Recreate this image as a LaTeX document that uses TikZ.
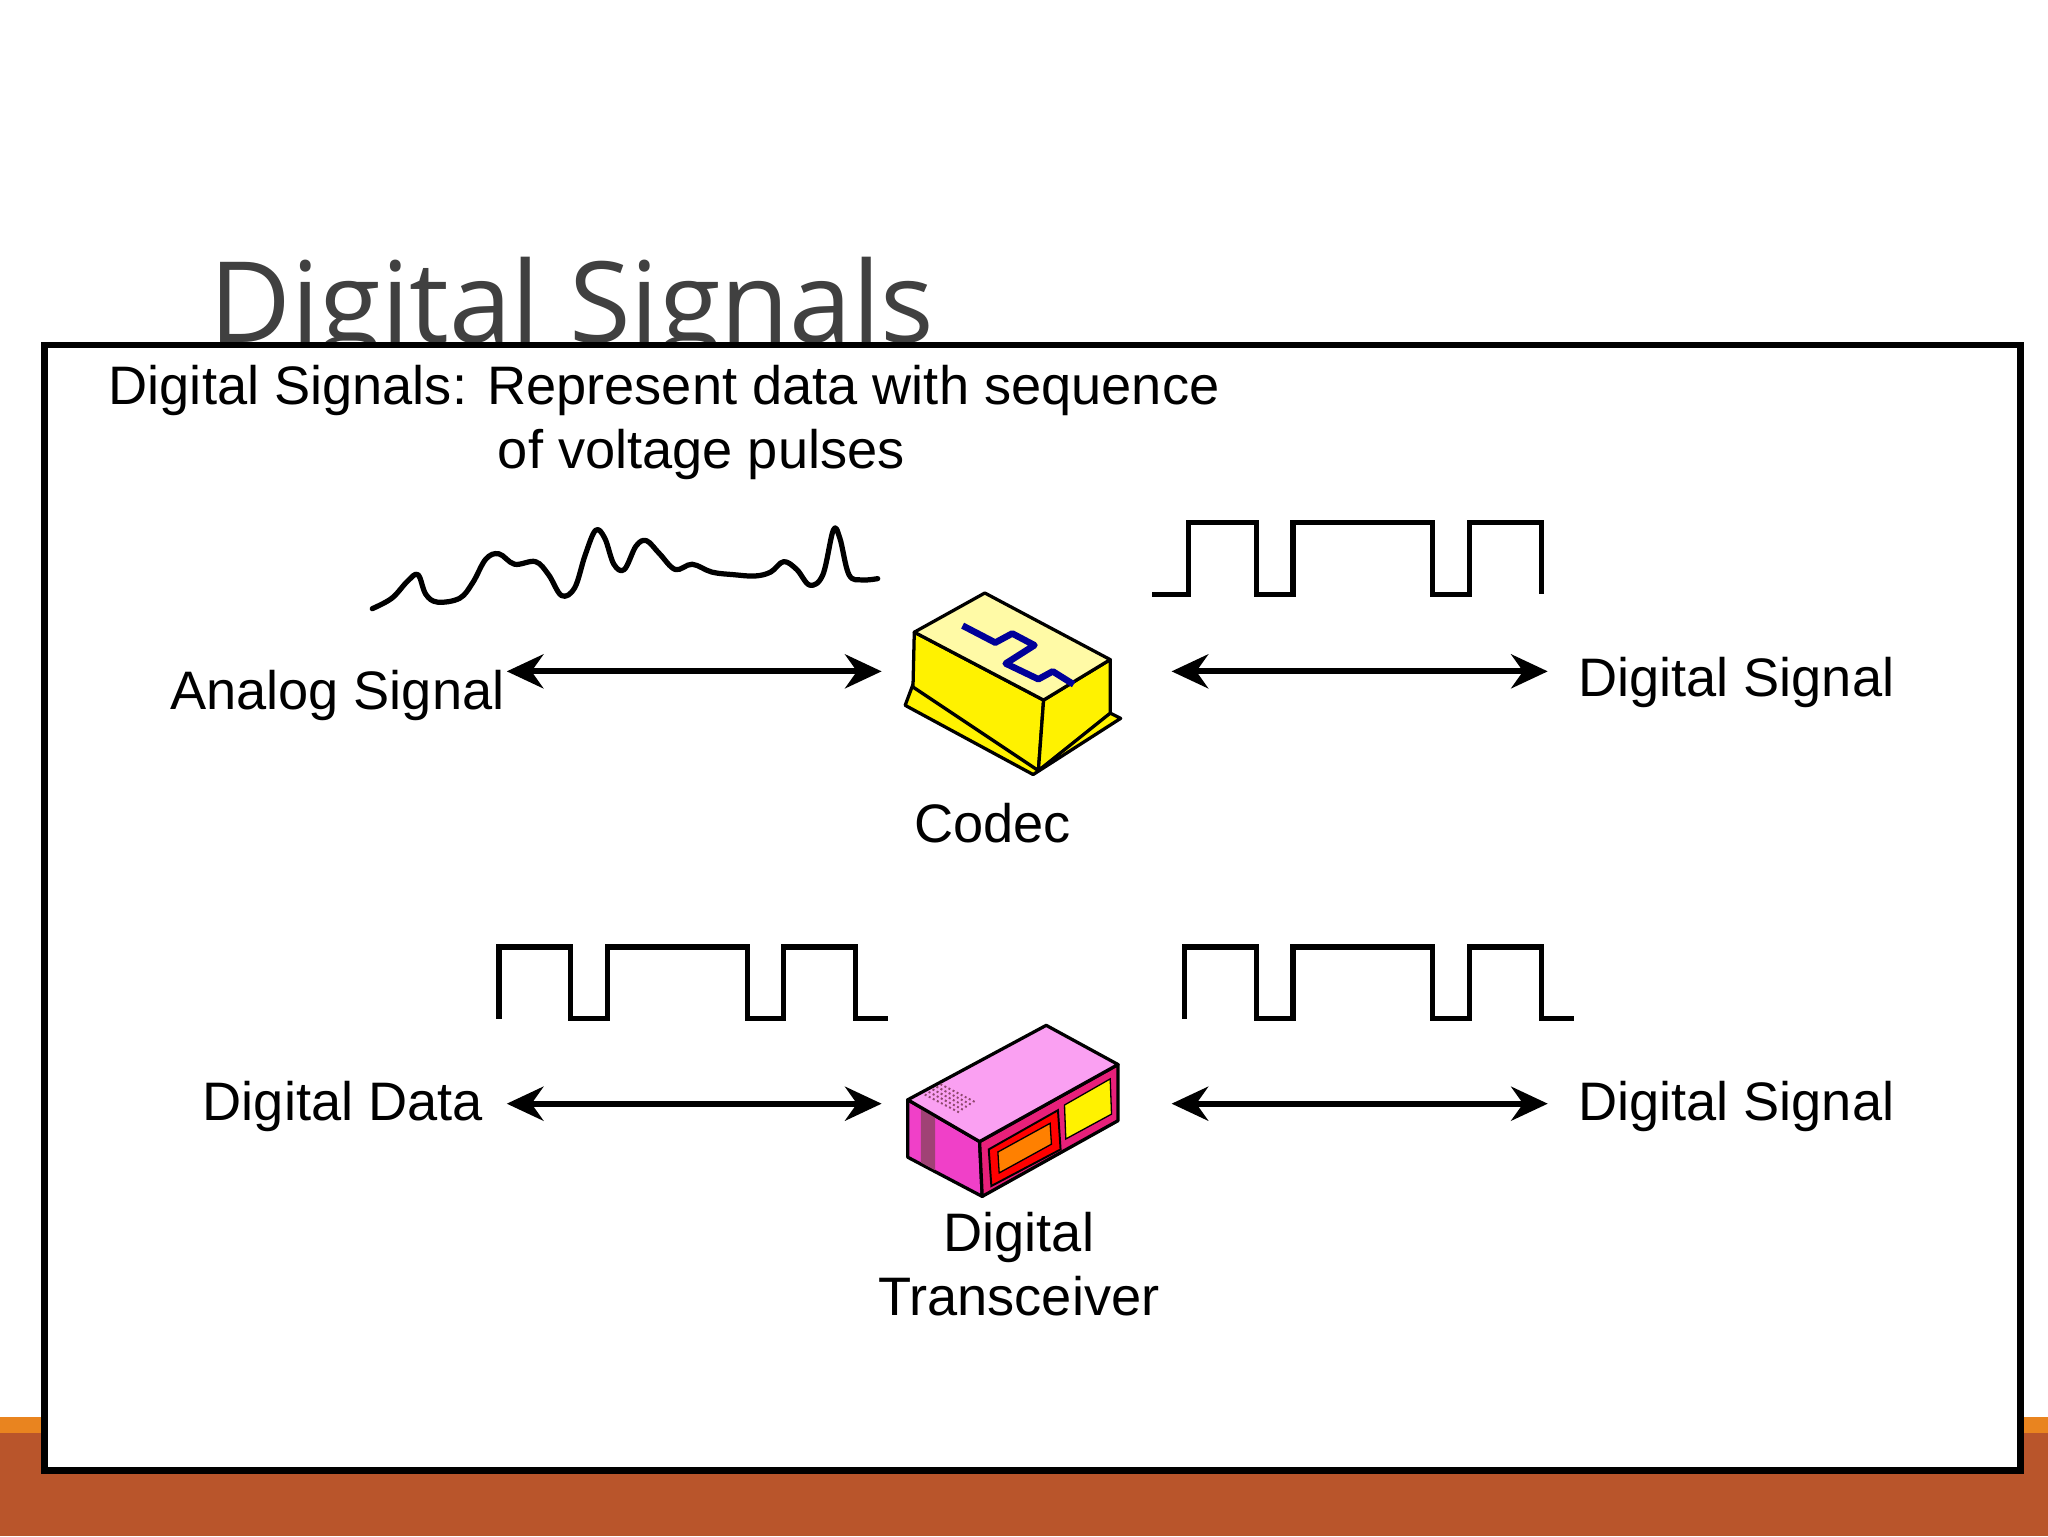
\documentclass[tikz,border=0pt]{standalone}
\usepackage{fontspec}
\setmainfont{Liberation Sans}
\newfontfamily\titlefont{Open Sans}
\usetikzlibrary{arrows.meta}
\definecolor{barorange}{HTML}{B9552B}
\definecolor{barlight}{HTML}{E9841F}
\definecolor{titlegray}{HTML}{404040}
\definecolor{trtop}{HTML}{FAA0F2}
\definecolor{trleft}{HTML}{F040C8}
\definecolor{trfront}{HTML}{E8207A}
\tikzset{
  lbl/.style={font=\fontsize{41.5}{46}\selectfont, inner sep=0pt},
  dbl/.style={line width=4.5pt, {Stealth[length=28pt,width=26pt]}-{Stealth[length=28pt,width=26pt]}},
  sq/.style={line width=4pt, line join=miter},
  edge/.style={line width=2.5pt, line join=round}
}
\begin{document}
\begin{tikzpicture}[x=1pt,y=-1pt]
\useasboundingbox (0,0) rectangle (1568,1176);
\fill[white] (0,0) rectangle (1568,1176);
\fill[barlight] (0,1085) rectangle (1568,1097);
\fill[barorange] (0,1097) rectangle (1568,1176);
\node[anchor=base west, inner sep=0pt, text=titlegray, font=\titlefont\fontsize{86}{94}\selectfont] (title) at (160,262) {Digital Signals};
\draw[line width=5pt, fill=white] (34,264) rectangle (1547,1126);
\node[lbl, anchor=base west] (h1) at (83,310) {Digital Signals: Represent data with sequence};
\node[lbl, anchor=base west] (h2) at (381,359) {of voltage pulses};
% analog wave
\draw[line width=4pt, line join=round, line cap=round] plot[smooth, tension=0.6] coordinates {
(285,466) (300,458) (312,445) (320,440) (326,455) (335,461) (352,458) (362,446) (372,428) (382,424) (394,432) (410,430) (420,440) (430,456) (440,450) (448,425) (456,406) (463,412) (470,432) (478,436) (487,418) (495,414) (505,424) (517,436) (530,432) (545,438) (562,440) (578,441) (590,438) (600,430) (610,436) (620,448) (630,440) (638,406) (643,412) (650,440) (660,444) (672,443)};
% square waves
\draw[sq] (882,455) -- (910,455) -- (910,400) -- (962,400) -- (962,455) -- (990,455) -- (990,400) -- (1097,400) -- (1097,455) -- (1125,455) -- (1125,400) -- (1180,400) -- (1180,455);
\draw[sq] (382,780) -- (382,725) -- (437,725) -- (437,780) -- (465,780) -- (465,725) -- (572,725) -- (572,780) -- (600,780) -- (600,725) -- (655,725) -- (655,780) -- (680,780);
\draw[sq] (907,780) -- (907,725) -- (962,725) -- (962,780) -- (990,780) -- (990,725) -- (1097,725) -- (1097,780) -- (1125,780) -- (1125,725) -- (1180,725) -- (1180,780) -- (1205,780);
% codec
\begin{scope}
\draw[edge, fill=yellow] (699,524) -- (693,540) -- (791,593) -- (858,550) -- (850,546) -- (795,578) -- cycle;
\draw[edge, fill=yellow] (700,484) -- (799,536) -- (795,590) -- (699,526) -- cycle;
\draw[edge, fill=yellow] (799,536) -- (850,505) -- (850,546) -- (795,590) -- cycle;
\draw[edge, fill=yellow!35] (700,484) -- (754,454) -- (850,505) -- (799,536) -- cycle;
\draw[line width=5pt, color=blue!60!black, line join=round] (737,479) -- (762,492) -- (775,485) -- (792,494) -- (770,508) -- (795,520) -- (806,514) -- (822,524);
\end{scope}
\node[lbl, anchor=base] (codec) at (760,645) {Codec};
% transceiver
\begin{scope}
\draw[edge, fill=trleft] (695,842) -- (750,874) -- (752,916) -- (695,886) -- cycle;
\fill[magenta!60!black] (705,848) -- (716,854) -- (716,896) -- (705,890) -- cycle;
\draw[edge, fill=trfront] (750,874) -- (856,815) -- (856,858) -- (752,916) -- cycle;
\draw[edge, fill=trtop] (695,842) -- (801,785) -- (856,815) -- (750,874) -- cycle;
\draw[line width=1.5pt, fill=red] (757,880) -- (810,850) -- (812,880) -- (759,908) -- cycle;
\draw[line width=1pt, fill=orange] (764,882) -- (804,860) -- (805,876) -- (765,898) -- cycle;
\draw[line width=1pt, fill=yellow] (815,846) -- (850,826) -- (851,853) -- (816,872) -- cycle;
\foreach \i in {0,...,4} \draw[line width=1.5pt, magenta!50!black, dotted] (708+\i*3,838-\i*2) -- (735+\i*3,852-\i*2);
\end{scope}
\node[lbl, anchor=base] (trans) at (780,958) {Digital};
\node[lbl, anchor=base] (trans2) at (780,1007) {Transceiver};
% labels
\node[lbl, anchor=base west] (an) at (130,543) {Analog Signal};
\node[lbl, anchor=base west] (ds1) at (1208,533) {Digital Signal};
\node[lbl, anchor=base west] (dd) at (155,858) {Digital Data};
\node[lbl, anchor=base west] (ds2) at (1208,858) {Digital Signal};
\coordinate (a1) at (388,514); \coordinate (a2) at (675,514);
\coordinate (b1) at (897,514); \coordinate (b2) at (1185,514);
\coordinate (c1) at (388,845); \coordinate (c2) at (675,845);
\coordinate (d1) at (897,845); \coordinate (d2) at (1185,845);
\draw[dbl] (a1) -- (a2);
\draw[dbl] (b1) -- (b2);
\draw[dbl] (c1) -- (c2);
\draw[dbl] (d1) -- (d2);
\end{tikzpicture}
\end{document}
